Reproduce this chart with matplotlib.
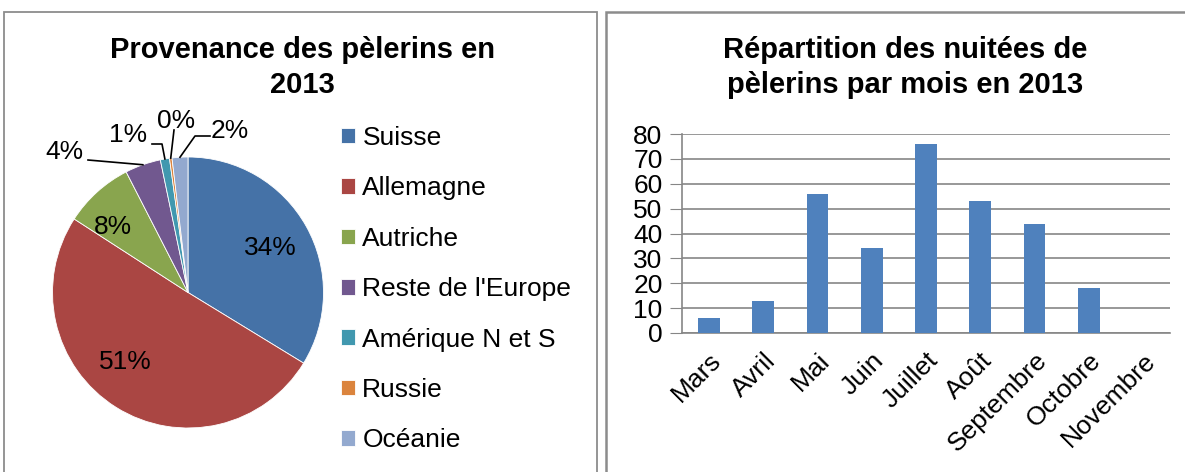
import matplotlib
matplotlib.use('Agg')
import matplotlib.pyplot as plt
from matplotlib.patches import Rectangle
import numpy as np

plt.rcParams['font.family'] = ['Liberation Sans', 'DejaVu Sans']

# pie data
origins = ['Suisse', 'Allemagne', 'Autriche', "Reste de l'Europe",
           'Amérique N et S', 'Russie', 'Océanie']
shares = [34.0, 50.8, 8.4, 4.3, 1.1, 0.3, 1.9]
pie_colors = ['#4572A7', '#AA4643', '#89A54E', '#71588F', '#4198AF', '#DB843D', '#93A9CF']

# bar data
months = ['Mars', 'Avril', 'Mai', 'Juin', 'Juillet', 'Août', 'Septembre', 'Octobre', 'Novembre']
nights = [6, 13, 56, 34, 76, 53, 44, 18, 0]

W, H = 1185, 472
fig = plt.figure(figsize=(W / 100, H / 100), dpi=100)


def box(x0, y0, x1, y1):
    # pixel box (top-left origin) -> figure fraction rect
    return [x0 / W, 1 - y1 / H, (x1 - x0) / W, (y1 - y0) / H]


# panel frames
fig.patches.append(Rectangle((4 / W, -0.05), 593 / W, 1 - 12 / H + 0.05, transform=fig.transFigure,
                             fill=False, edgecolor='#8c8c8c', lw=1.3))
fig.patches.append(Rectangle((606 / W, -0.05), 0.6, 1 - 12 / H + 0.05, transform=fig.transFigure,
                             fill=False, edgecolor='#8c8c8c', lw=1.8))

# ---- pie ----
cx, cy, R = 188, 292.5, 135.5
ax1 = fig.add_axes(box(cx - R, cy - R, cx + R, cy + R))
wedges, texts = ax1.pie(shares, colors=pie_colors, startangle=90, counterclock=False,
                        wedgeprops=dict(edgecolor='white', linewidth=0.6))
ax1.set_xlim(-1, 1)
ax1.set_ylim(-1, 1)
ax1.set_aspect('equal')


def px(x, y):
    # pixel position -> pie data coords
    return (x - cx) / R, (cy - y) / R


# label positions (pixels); small slices get a leader line through the elbows
label_pos = {0: (270, 248), 1: (125, 362), 2: (113, 227),
             3: (64, 152), 4: (128, 135), 5: (176, 121), 6: (230, 131)}
elbows = {3: [(88, 160)],
          4: [(152, 144), (162, 144)],
          5: [(174, 130)],
          6: [(210, 136), (195, 136)]}
for i, w in enumerate(wedges):
    ang = np.deg2rad((w.theta1 + w.theta2) / 2)
    lab = '%.0f%%' % shares[i]
    if i in elbows:
        pts = [px(*p) for p in elbows[i]] + [(np.cos(ang), np.sin(ang))]
        xs, ys = zip(*pts)
        ax1.plot(xs, ys, color='black', lw=1.2, clip_on=False)
    tx, ty = px(*label_pos[i])
    ax1.text(tx, ty, lab, ha='center', va='center', fontsize=19, clip_on=False)

fig.text(302 / W, 1 - 50 / H, 'Provenance des pèlerins en', ha='center', va='center',
         fontsize=21, fontweight='bold')
fig.text(302 / W, 1 - 85 / H, '2013', ha='center', va='center', fontsize=21, fontweight='bold')

fig.legend(wedges, origins, loc='upper left', bbox_to_anchor=(341 / W, 1 - 126 / H),
           frameon=False, fontsize=19, handlelength=0.53, handleheight=0.53,
           handletextpad=0.28, labelspacing=1.0, borderaxespad=0, borderpad=0)

# ---- bars ----
ax2 = fig.add_axes(box(682, 134, 1170, 333))
x = np.arange(len(months))
ax2.bar(x, nights, width=0.4, color='#4F81BD', zorder=3)
ax2.set_xlim(-0.5, len(months) - 0.5)
ax2.set_ylim(0, 80)
ax2.set_yticks(np.arange(0, 81, 10))
ax2.yaxis.grid(True, color='#868686', lw=1.2, zorder=0)
ax2.set_xticks(x)
ax2.set_xticklabels(months, rotation=45, ha='right', rotation_mode='anchor', fontsize=19)
ax2.tick_params(axis='y', labelsize=19, length=9, color='#868686', pad=5)
ax2.tick_params(axis='x', length=0, pad=11)
for s in ['top', 'right']:
    ax2.spines[s].set_visible(False)
ax2.spines['left'].set_color('#868686')
ax2.spines['bottom'].set_color('#868686')
ax2.spines['left'].set_linewidth(1.2)
ax2.spines['bottom'].set_linewidth(1.2)

fig.text(905 / W, 1 - 50 / H, 'Répartition des nuitées de', ha='center', va='center',
         fontsize=21, fontweight='bold')
fig.text(905 / W, 1 - 85 / H, 'pèlerins par mois en 2013', ha='center', va='center',
         fontsize=21, fontweight='bold')

fig.savefig('out.png', dpi=100)
